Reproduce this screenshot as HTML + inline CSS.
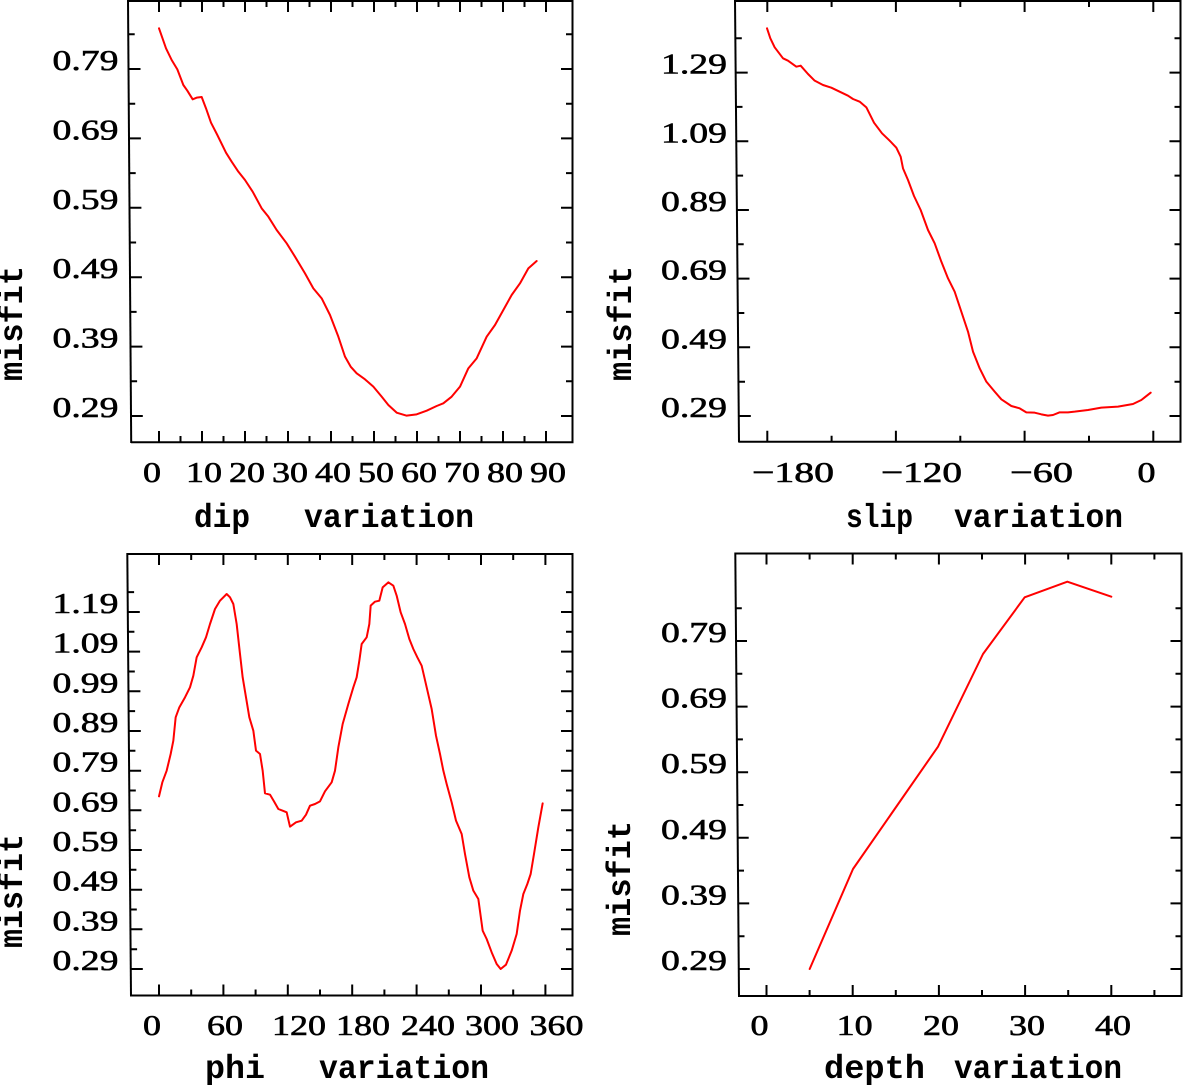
<!DOCTYPE html>
<html>
<head>
<meta charset="utf-8">
<style>
html,body{margin:0;padding:0;background:#fff;}
svg{display:block;}
.ax{stroke:#000;stroke-width:2;fill:none;}
.tk{stroke:#000;stroke-width:2;fill:none;}
.cv{stroke:#ff0000;stroke-width:6;fill:none;stroke-linejoin:round;stroke-linecap:round;}
.n{font-family:"Liberation Serif",serif;font-size:29px;fill:#000;stroke:#000;stroke-width:0.6;}
.t{font-family:"Liberation Mono",monospace;font-weight:bold;font-size:33px;fill:#000;}
</style>
</head>
<body>
<svg width="1183" height="1086" viewBox="0 0 1183 1086" xmlns="http://www.w3.org/2000/svg">
<rect x="0" y="0" width="1183" height="1086" fill="#fff"/>

<!-- ================= TOP LEFT ================= -->
<path class="ax" d="M128 1H572.5V442.3H131"/>
<path class="ax" d="M128 0L131.2 443"/>
<path class="tk" d="M159 442v-11M180.5 442v-6M202 442v-11M223.5 442v-6M245 442v-11M266.5 442v-6M288 442v-11M309.5 442v-6M331 442v-11M352.5 442v-6M374 442v-11M395.5 442v-6M417 442v-11M438.5 442v-6M460 442v-11M481.5 442v-6M503 442v-11M524.5 442v-6M546 442v-11"/>
<path class="tk" d="M159 1v11M180.5 1v6M202 1v11M223.5 1v6M245 1v11M266.5 1v6M288 1v11M309.5 1v6M331 1v11M352.5 1v6M374 1v11M395.5 1v6M417 1v11M438.5 1v6M460 1v11M481.5 1v6M503 1v11M524.5 1v6M546 1v11"/>
<path class="tk" d="M130.8 416h12M130.6 381.3h6.5M130.4 346.6h12M130.1 311.9h6.5M129.9 277.2h12M129.6 242.5h6.5M129.4 207.8h12M129.2 173.1h6.5M128.9 138.4h12M128.7 103.7h6.5M128.5 69h12M128.2 34.3h6.5"/>
<path class="tk" d="M572 416h-11M572 381.3h-6M572 346.6h-11M572 311.9h-6M572 277.2h-11M572 242.5h-6M572 207.8h-11M572 173.1h-6M572 138.4h-11M572 103.7h-6M572 69h-11M572 34.3h-6"/>
<g class="n">
<text x="52.5" y="417" textLength="66" lengthAdjust="spacingAndGlyphs">0.29</text>
<text x="52.5" y="347.6" textLength="66" lengthAdjust="spacingAndGlyphs">0.39</text>
<text x="52.5" y="278.2" textLength="66" lengthAdjust="spacingAndGlyphs">0.49</text>
<text x="52.5" y="208.8" textLength="66" lengthAdjust="spacingAndGlyphs">0.59</text>
<text x="52.5" y="139.4" textLength="66" lengthAdjust="spacingAndGlyphs">0.69</text>
<text x="52.5" y="70" textLength="66" lengthAdjust="spacingAndGlyphs">0.79</text>
<text x="143" y="482" textLength="18" lengthAdjust="spacingAndGlyphs">0</text>
<text x="186" y="482" textLength="36" lengthAdjust="spacingAndGlyphs">10</text>
<text x="229" y="482" textLength="36" lengthAdjust="spacingAndGlyphs">20</text>
<text x="272" y="482" textLength="36" lengthAdjust="spacingAndGlyphs">30</text>
<text x="315" y="482" textLength="36" lengthAdjust="spacingAndGlyphs">40</text>
<text x="358" y="482" textLength="36" lengthAdjust="spacingAndGlyphs">50</text>
<text x="401" y="482" textLength="36" lengthAdjust="spacingAndGlyphs">60</text>
<text x="444" y="482" textLength="36" lengthAdjust="spacingAndGlyphs">70</text>
<text x="487" y="482" textLength="36" lengthAdjust="spacingAndGlyphs">80</text>
<text x="530" y="482" textLength="36" lengthAdjust="spacingAndGlyphs">90</text>
</g>
<g class="t">
<text x="194" y="527" textLength="56" lengthAdjust="spacingAndGlyphs">dip</text>
<text x="304" y="527" textLength="170" lengthAdjust="spacingAndGlyphs">variation</text>
<text transform="translate(22 381) rotate(-90)" textLength="115" lengthAdjust="spacingAndGlyphs">misfit</text>
</g>
<g transform="translate(130 0) scale(0.333333)">
<polyline class="cv" points="87,85 108,145 125,180 142,208 160,255 172,272 188,298 200,293 215,291 228,325 243,368 262,405 288,458 305,485 325,515 345,540 368,575 395,625 415,650 440,690 470,730 495,770 525,820 550,865 575,895 600,945 625,1010 645,1070 662,1100 680,1120 705,1138 730,1160 755,1190 775,1215 800,1238 830,1247 860,1243 890,1232 920,1218 940,1210 965,1190 990,1160 1015,1105 1040,1075 1070,1010 1095,975 1120,930 1145,885 1170,850 1195,805 1220,783"/>
</g>

<!-- ================= TOP RIGHT ================= -->
<path class="ax" d="M735 1H1180.5V441.7H739"/>
<path class="ax" d="M735 0L739 442.5"/>
<path class="tk" d="M767.3 441.7v-11M831.6 441.7v-6M895.9 441.7v-11M960.3 441.7v-6M1024.6 441.7v-11M1089 441.7v-6M1153.3 441.7v-11"/>
<path class="tk" d="M767.3 1v11M831.6 1v6M895.9 1v11M960.3 1v6M1024.6 1v11M1089 1v6M1153.3 1v11"/>
<path class="tk" d="M738.8 416h12M738.5 381.7h6.5M738.1 347.3h12M737.8 313h6.5M737.5 278.6h12M737.2 244.3h6.5M736.9 210h12M736.6 175.6h6.5M736.3 141.3h12M736 106.9h6.5M735.7 72.6h12M735.3 38.3h6.5"/>
<path class="tk" d="M1180.5 416h-11M1180.5 381.7h-6M1180.5 347.3h-11M1180.5 313h-6M1180.5 278.6h-11M1180.5 244.3h-6M1180.5 210h-11M1180.5 175.6h-6M1180.5 141.3h-11M1180.5 106.9h-6M1180.5 72.6h-11M1180.5 38.3h-6"/>
<g class="n">
<text x="661" y="417" textLength="66" lengthAdjust="spacingAndGlyphs">0.29</text>
<text x="661" y="348.3" textLength="66" lengthAdjust="spacingAndGlyphs">0.49</text>
<text x="661" y="279.6" textLength="66" lengthAdjust="spacingAndGlyphs">0.69</text>
<text x="661" y="211" textLength="66" lengthAdjust="spacingAndGlyphs">0.89</text>
<text x="661" y="142.3" textLength="66" lengthAdjust="spacingAndGlyphs">1.09</text>
<text x="661" y="73.6" textLength="66" lengthAdjust="spacingAndGlyphs">1.29</text>
<text x="752" y="482" textLength="82" lengthAdjust="spacingAndGlyphs">−180</text>
<text x="881" y="482" textLength="81" lengthAdjust="spacingAndGlyphs">−120</text>
<text x="1010" y="482" textLength="63" lengthAdjust="spacingAndGlyphs">−60</text>
<text x="1137.5" y="482" textLength="18" lengthAdjust="spacingAndGlyphs">0</text>
</g>
<g class="t">
<text x="846" y="527" textLength="67" lengthAdjust="spacingAndGlyphs">slip</text>
<text x="954" y="527" textLength="169" lengthAdjust="spacingAndGlyphs">variation</text>
<text transform="translate(631 381) rotate(-90)" textLength="115" lengthAdjust="spacingAndGlyphs">misfit</text>
</g>
<g transform="translate(738 0) scale(0.333333)">
<polyline class="cv" points="87,85 97,115 110,142 135,175 150,182 175,200 188,197 210,222 230,242 255,255 280,263 305,275 330,287 345,297 365,305 385,322 408,368 432,400 455,422 475,443 488,470 495,505 510,540 528,588 548,630 570,690 590,730 610,785 630,835 650,875 670,935 690,995 705,1055 725,1105 745,1145 770,1175 790,1198 820,1218 845,1225 865,1237 890,1238 910,1243 930,1247 945,1245 965,1237 990,1237 1010,1235 1050,1230 1090,1223 1140,1220 1185,1212 1210,1200 1238,1178"/>
</g>

<!-- ================= BOTTOM LEFT ================= -->
<path class="ax" d="M127.3 554H572.5V995.5H131"/>
<path class="ax" d="M127.3 553L131 996.5"/>
<path class="tk" d="M159 995.5v-11M191.2 995.5v-6M223.4 995.5v-11M255.6 995.5v-6M287.8 995.5v-11M320 995.5v-6M352.2 995.5v-11M384.4 995.5v-6M416.6 995.5v-11M448.8 995.5v-6M481 995.5v-11M513.2 995.5v-6M545.4 995.5v-11"/>
<path class="tk" d="M159 554v11M191.2 554v6M223.4 554v11M255.6 554v6M287.8 554v11M320 554v6M352.2 554v11M384.4 554v6M416.6 554v11M448.8 554v6M481 554v11M513.2 554v6M545.4 554v11"/>
<path class="tk" d="M130.8 969h12M130.6 949.2h6.5M130.4 929.3h12M130.3 909.5h6.5M130.1 889.7h12M129.9 869.8h6.5M129.8 850h12M129.6 830.2h6.5M129.4 810.3h12M129.3 790.5h6.5M129.1 770.7h12M128.9 750.8h6.5M128.8 731h12M128.6 711.1h6.5M128.4 691.3h12M128.3 671.5h6.5M128.1 651.6h12M127.9 631.8h6.5M127.8 612h12M127.6 592.1h6.5"/>
<path class="tk" d="M572 969h-11M572 949.2h-6M572 929.3h-11M572 909.5h-6M572 889.7h-11M572 869.8h-6M572 850h-11M572 830.2h-6M572 810.3h-11M572 790.5h-6M572 770.7h-11M572 750.8h-6M572 731h-11M572 711.1h-6M572 691.3h-11M572 671.5h-6M572 651.6h-11M572 631.8h-6M572 612h-11M572 592.1h-6"/>
<g class="n">
<text x="52.5" y="970" textLength="66" lengthAdjust="spacingAndGlyphs">0.29</text>
<text x="52.5" y="930.3" textLength="66" lengthAdjust="spacingAndGlyphs">0.39</text>
<text x="52.5" y="890.7" textLength="66" lengthAdjust="spacingAndGlyphs">0.49</text>
<text x="52.5" y="851" textLength="66" lengthAdjust="spacingAndGlyphs">0.59</text>
<text x="52.5" y="811.3" textLength="66" lengthAdjust="spacingAndGlyphs">0.69</text>
<text x="52.5" y="771.7" textLength="66" lengthAdjust="spacingAndGlyphs">0.79</text>
<text x="52.5" y="732" textLength="66" lengthAdjust="spacingAndGlyphs">0.89</text>
<text x="52.5" y="692.3" textLength="66" lengthAdjust="spacingAndGlyphs">0.99</text>
<text x="52.5" y="652.6" textLength="66" lengthAdjust="spacingAndGlyphs">1.09</text>
<text x="52.5" y="613" textLength="66" lengthAdjust="spacingAndGlyphs">1.19</text>
<text x="143" y="1035" textLength="18" lengthAdjust="spacingAndGlyphs">0</text>
<text x="207" y="1035" textLength="36" lengthAdjust="spacingAndGlyphs">60</text>
<text x="272" y="1035" textLength="54" lengthAdjust="spacingAndGlyphs">120</text>
<text x="336" y="1035" textLength="54" lengthAdjust="spacingAndGlyphs">180</text>
<text x="401" y="1035" textLength="54" lengthAdjust="spacingAndGlyphs">240</text>
<text x="465" y="1035" textLength="54" lengthAdjust="spacingAndGlyphs">300</text>
<text x="529.5" y="1035" textLength="54" lengthAdjust="spacingAndGlyphs">360</text>
</g>
<g class="t">
<text x="205" y="1078" textLength="60" lengthAdjust="spacingAndGlyphs">phi</text>
<text x="319" y="1078" textLength="170" lengthAdjust="spacingAndGlyphs">variation</text>
<text transform="translate(22 948) rotate(-90)" textLength="114" lengthAdjust="spacingAndGlyphs">misfit</text>
</g>
<g transform="translate(130 554) scale(0.333333)">
<polyline class="cv" points="87,727 97,685 110,650 122,600 130,560 137,490 148,460 165,430 180,400 190,365 200,310 215,280 228,250 240,210 255,165 270,140 290,120 300,130 310,150 320,210 330,300 338,370 348,430 358,490 370,530 378,590 390,600 398,650 405,718 420,722 432,742 445,765 458,770 470,775 480,818 498,805 515,800 528,782 540,755 555,750 570,742 585,712 605,685 615,650 625,580 638,510 655,450 670,400 680,370 688,320 695,270 710,250 718,210 722,155 735,143 748,140 758,100 775,85 790,95 800,125 812,175 825,210 838,255 850,285 862,310 875,335 890,400 905,465 918,545 930,600 940,650 950,690 965,745 978,800 995,840 1005,900 1018,970 1030,1010 1045,1035 1058,1130 1070,1155 1085,1195 1100,1230 1112,1245 1128,1232 1145,1190 1160,1140 1170,1070 1180,1020 1192,990 1202,960 1212,900 1225,820 1238,748"/>
</g>

<!-- ================= BOTTOM RIGHT ================= -->
<path class="ax" d="M735.3 553.5H1181.5V996H739"/>
<path class="ax" d="M735.3 552.5L739 997"/>
<path class="tk" d="M766.5 996v-11M809.6 996v-6M852.7 996v-11M895.8 996v-6M938.9 996v-11M982 996v-6M1025.1 996v-11M1068.2 996v-6M1111.3 996v-11M1154.4 996v-6"/>
<path class="tk" d="M766.5 553.5v11M809.6 553.5v6M852.7 553.5v11M895.8 553.5v6M938.9 553.5v11M982 553.5v6M1025.1 553.5v11M1068.2 553.5v6M1111.3 553.5v11M1154.4 553.5v6"/>
<path class="tk" d="M738.8 969h11M738.5 936.2h6M738.2 903.4h11M738 870.6h6M737.7 837.8h11M737.4 805h6M737.1 772.2h11M736.9 739.4h6M736.6 706.6h11M736.3 673.8h6M736 641h11M735.8 608.2h6"/>
<path class="tk" d="M1181.5 969h-11M1181.5 936.2h-6M1181.5 903.4h-11M1181.5 870.6h-6M1181.5 837.8h-11M1181.5 805h-6M1181.5 772.2h-11M1181.5 739.4h-6M1181.5 706.6h-11M1181.5 673.8h-6M1181.5 641h-11M1181.5 608.2h-6"/>
<g class="n">
<text x="661" y="970" textLength="66" lengthAdjust="spacingAndGlyphs">0.29</text>
<text x="661" y="904.4" textLength="66" lengthAdjust="spacingAndGlyphs">0.39</text>
<text x="661" y="838.8" textLength="66" lengthAdjust="spacingAndGlyphs">0.49</text>
<text x="661" y="773.2" textLength="66" lengthAdjust="spacingAndGlyphs">0.59</text>
<text x="661" y="707.6" textLength="66" lengthAdjust="spacingAndGlyphs">0.69</text>
<text x="661" y="642" textLength="66" lengthAdjust="spacingAndGlyphs">0.79</text>
<text x="750.5" y="1035" textLength="18" lengthAdjust="spacingAndGlyphs">0</text>
<text x="836.7" y="1035" textLength="36" lengthAdjust="spacingAndGlyphs">10</text>
<text x="923" y="1035" textLength="36" lengthAdjust="spacingAndGlyphs">20</text>
<text x="1009" y="1035" textLength="36" lengthAdjust="spacingAndGlyphs">30</text>
<text x="1095" y="1035" textLength="36" lengthAdjust="spacingAndGlyphs">40</text>
</g>
<g class="t">
<text x="824" y="1078" textLength="101" lengthAdjust="spacingAndGlyphs">depth</text>
<text x="954" y="1078" textLength="168" lengthAdjust="spacingAndGlyphs">variation</text>
<text transform="translate(630 936) rotate(-90)" textLength="115" lengthAdjust="spacingAndGlyphs">misfit</text>
</g>
<g transform="translate(738 554) scale(0.333333)">
<polyline class="cv" points="215,1245 345,945 600,578 735,300 860,130 988,83 1120,128"/>
</g>
</svg>
</body>
</html>
